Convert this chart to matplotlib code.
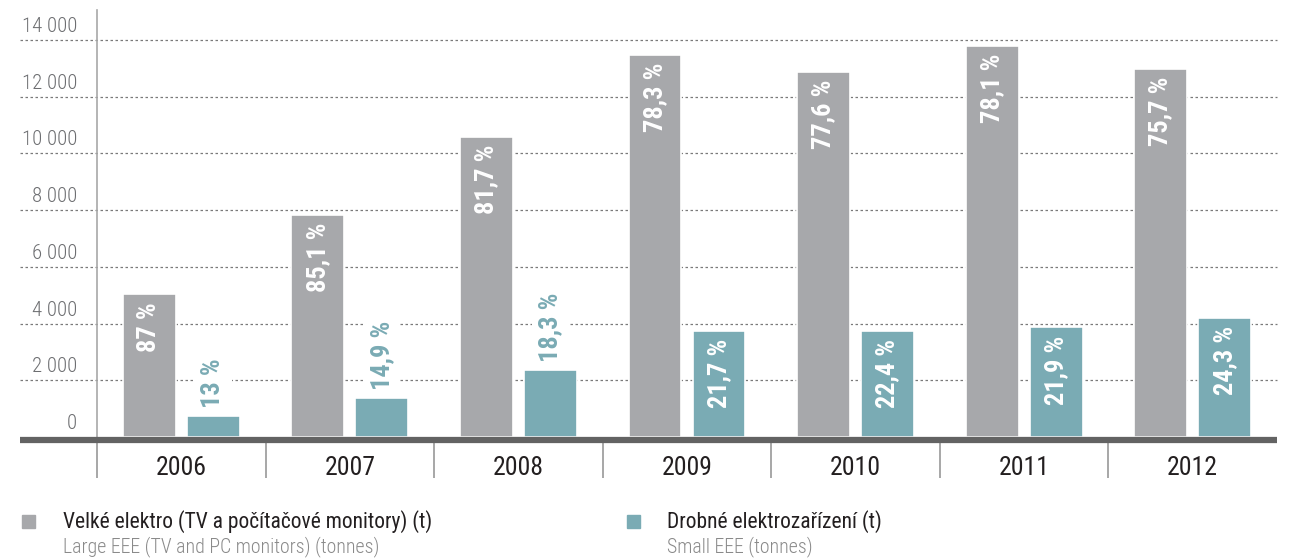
import matplotlib
matplotlib.use('Agg')
import matplotlib.pyplot as plt
import matplotlib.transforms as mtransforms
from matplotlib.lines import Line2D
from matplotlib.patches import Rectangle
import numpy as np

plt.rcParams['font.family'] = ['Roboto Condensed', 'Barlow Condensed', 'Antonio', 'DejaVu Sans']

# data
years = ['2006', '2007', '2008', '2009', '2010', '2011', '2012']
large_eee = [5040, 7830, 10580, 13470, 12870, 13790, 12980]
small_eee = [750, 1370, 2370, 3740, 3730, 3870, 4190]
large_pct = ['87 %', '85,1 %', '81,7 %', '78,3 %', '77,6 %', '78,1 %', '75,7 %']
small_pct = ['13 %', '14,9 %', '18,3 %', '21,7 %', '22,4 %', '21,9 %', '24,3 %']
yticks = [0, 2000, 4000, 6000, 8000, 10000, 12000, 14000]
ytick_labels = ['0', '2 000', '4 000', '6 000', '8 000', '10 000', '12 000', '14 000']

legend_cz = ['Velké elektro (TV a počítačové monitory) (t)', 'Drobné elektrozařízení (t)']
legend_en = ['Large EEE (TV and PC monitors) (tonnes)', 'Small EEE (tonnes)']

GRAY = '#a7a8ab'
TEAL = '#7aabb4'
DARK = '#231f20'
TICK_GRAY = '#6d6e71'

W, H = 1290, 558
fig = plt.figure(figsize=(W / 100, H / 100), dpi=100)
ax = fig.add_axes([97 / W, 1 - 437 / H, 1180 / W, 427 / H])

x = np.arange(len(years))
bw = 0.314
off = 0.19

ax.set_xlim(-0.5, len(years) - 0.5)
ax.set_ylim(0, 15060)

# dotted grid lines reaching past the left axis
for v in yticks[1:]:
    ax.axhline(v, xmin=-0.065, xmax=1, color='#7a7a7a', lw=0.9,
               ls=(0, (2, 2)), clip_on=False, zorder=0)

b1 = ax.bar(x - off, large_eee, bw, color=GRAY, edgecolor='white', lw=1.2, zorder=2)
b2 = ax.bar(x + off, small_eee, bw, color=TEAL, edgecolor='white', lw=1.2, zorder=2)

# percentage labels
for xi, v, t in zip(x, large_eee, large_pct):
    ax.annotate(t, xy=(xi - off, v), xytext=(0, -8), textcoords='offset pixels',
                rotation=90, ha='center', va='top', color='white',
                fontsize=19, fontweight='bold', zorder=4)
for xi, v, t in zip(x, small_eee, small_pct):
    if v > 3000:
        ax.annotate(t, xy=(xi + off, v), xytext=(0, -8), textcoords='offset pixels',
                    rotation=90, ha='center', va='top', color='white',
                    fontsize=19, fontweight='bold', zorder=4)
    else:
        ax.annotate(t, xy=(xi + off, v), xytext=(0, 8), textcoords='offset pixels',
                    rotation=90, ha='center', va='bottom', color=TEAL,
                    fontsize=19, fontweight='bold', zorder=4,
                    bbox=dict(boxstyle='square,pad=0.25', fc='white', ec='none'))

# y tick labels sitting above the grid lines
ax.set_yticks([])
ax.set_xticks([])
ytrans = mtransforms.blended_transform_factory(ax.transAxes, ax.transData)
for v, lab in zip(yticks, ytick_labels):
    ax.annotate(lab, xy=(-0.017, v), xycoords=ytrans, xytext=(0, 8),
                textcoords='offset pixels', ha='right', va='baseline',
                fontsize=15, fontweight='light', color=TICK_GRAY)

# year labels and separators
xtrans = mtransforms.blended_transform_factory(ax.transData, ax.transAxes)
for xi, yr in zip(x, years):
    ax.text(xi, -0.073, yr, transform=xtrans, ha='center', va='center',
            fontsize=18.5, color=DARK)
ax.vlines(np.arange(len(years)) - 0.5, -0.096, 0, transform=xtrans,
          color='#a0a0a0', lw=1.3, clip_on=False)

for s in ['top', 'right', 'bottom']:
    ax.spines[s].set_visible(False)
ax.spines['left'].set_color('#a8a8a8')
ax.spines['left'].set_linewidth(1.2)

# thick base line
fig.add_artist(Line2D([20 / W, 1277 / W], [1 - 440 / H, 1 - 440 / H],
                      color='#636363', lw=4.5, solid_capstyle='butt'))

# legend
for i, (lx, tx) in enumerate([(22, 63), (627, 667)]):
    col = GRAY if i == 0 else TEAL
    fig.add_artist(Rectangle((lx / W, 1 - 528 / H), 13 / W, 13 / H,
                             color=col, transform=fig.transFigure))
    fig.text(tx / W, 1 - 522 / H, legend_cz[i], ha='left', va='center',
             fontsize=15.5, color=DARK)
    fig.text(tx / W, 1 - 547 / H, legend_en[i], ha='left', va='center',
             fontsize=14.3, fontweight='light', color='#8a8a8a')

fig.savefig('out.png', dpi=100)
